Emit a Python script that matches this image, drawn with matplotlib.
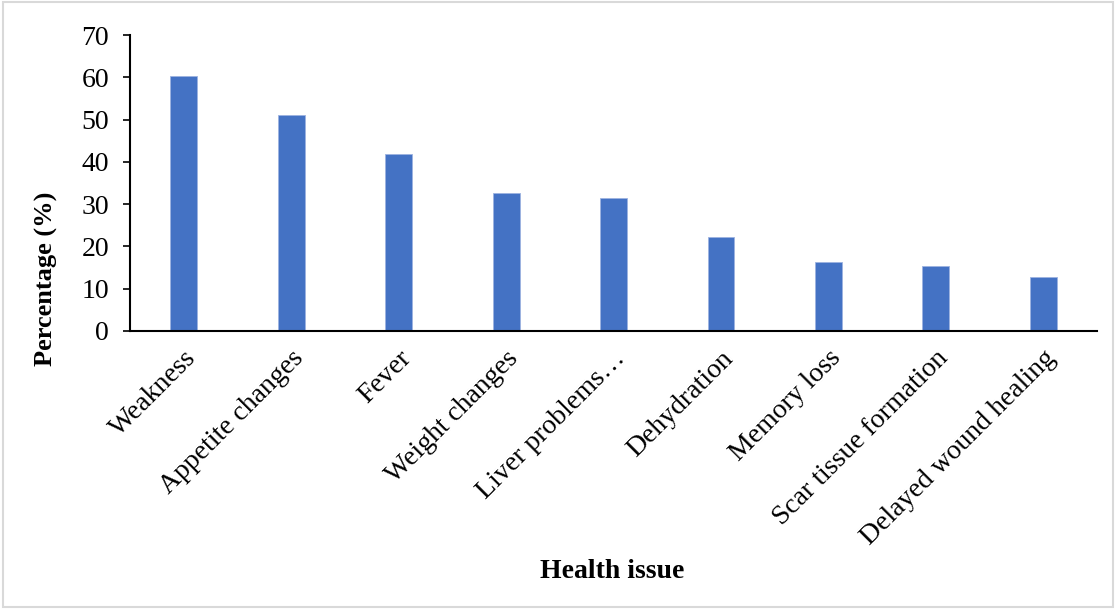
import matplotlib
matplotlib.use("Agg")
import matplotlib.pyplot as plt
import matplotlib.transforms as mtransforms
from matplotlib.patches import Rectangle

categories = ["Weakness", "Appetite changes", "Fever", "Weight changes",
              "Liver problems…", "Dehydration", "Memory loss",
              "Scar tissue formation", "Delayed wound healing"]
percent = [60.3, 51.1, 41.8, 32.6, 31.4, 22.2, 16.3, 15.3, 12.8]
y_ticks = [0, 10, 20, 30, 40, 50, 60, 70]

plt.rcParams['font.family'] = ['Liberation Serif', 'DejaVu Serif']

fig = plt.figure(figsize=(11.16, 6.09), dpi=100)
ax = fig.add_axes([0.1165, 0.4565, 0.8665, 0.486])

x = list(range(len(categories)))
ax.bar(x, percent, width=0.25, color='#4472C4', edgecolor='#9DB3E0', linewidth=0.6)

ax.set_xlim(-0.5, len(categories) - 0.5)
ax.set_ylim(0, 70)
ax.set_yticks(y_ticks)
ax.set_yticklabels([str(t) for t in y_ticks], fontsize=20)
ax.set_xticks(x)
ax.set_xticklabels(categories, rotation=45, ha='right', va='center',
                   rotation_mode='anchor', fontsize=20)
ax.tick_params(axis='x', length=0, pad=17)
ax.tick_params(axis='y', length=5, width=1.2, pad=10)

# Excel puts the slanted labels a little to the right of the bar centre
shift = mtransforms.ScaledTranslation(6 / 72, 0, fig.dpi_scale_trans)
for lbl in ax.get_xticklabels():
    lbl.set_transform(lbl.get_transform() + shift)

for s in ['top', 'right']:
    ax.spines[s].set_visible(False)
for s in ['left', 'bottom']:
    ax.spines[s].set_linewidth(1.5)
    ax.spines[s].set_color('black')

fig.text(0.042, 0.542, "Percentage (%)", rotation=90, ha='center', va='center',
         fontsize=19, fontweight='bold')
fig.text(0.549, 0.061, "Health issue", ha='center', va='center', fontsize=20, fontweight='bold')

# light frame round the whole picture
fig.patches.append(Rectangle((0.003, 0.003), 0.994, 0.994, transform=fig.transFigure,
                             fill=False, edgecolor='#D9D9D9', linewidth=1.5))

fig.savefig("out.png", dpi=100)
